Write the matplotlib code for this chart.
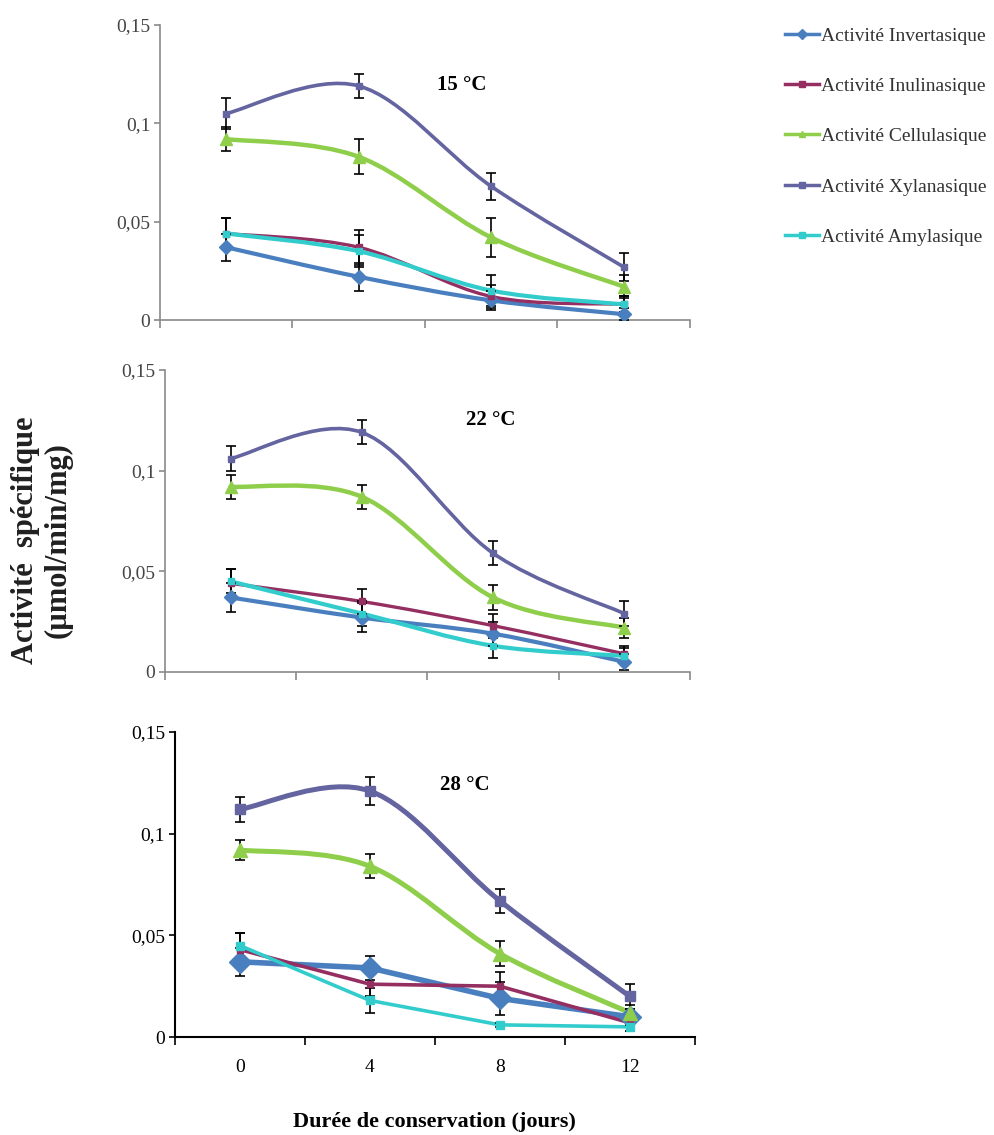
import matplotlib
matplotlib.use("Agg")
import matplotlib.pyplot as plt
from matplotlib.path import Path
from matplotlib.patches import PathPatch
from matplotlib.lines import Line2D
from matplotlib.ticker import FuncFormatter

plt.rcParams['font.family'] = ['Liberation Serif', 'DejaVu Serif']

days = [0, 4, 8, 12]
temps = ["15 °C", "22 °C", "28 °C"]
names = ["Activité Invertasique", "Activité Inulinasique", "Activité Cellulasique",
         "Activité Xylanasique", "Activité Amylasique"]
colors = ["#4a7fbf", "#952e61", "#8fce4a", "#6464a0", "#33cccc"]
markers = ["D", "s", "^", "s", "s"]

# activité spécifique (µmol/min/mg), one row per enzyme, one block per temperature
act_15 = [[0.037, 0.022, 0.010, 0.003],
          [0.044, 0.037, 0.012, 0.008],
          [0.092, 0.083, 0.042, 0.017],
          [0.105, 0.119, 0.068, 0.027],
          [0.044, 0.035, 0.015, 0.008]]
err_15 = [[0.007, 0.007, 0.005, 0.003],
          [0.008, 0.009, 0.006, 0.004],
          [0.006, 0.009, 0.010, 0.006],
          [0.008, 0.006, 0.007, 0.007],
          [0.008, 0.008, 0.008, 0.004]]

act_22 = [[0.037, 0.027, 0.019, 0.005],
          [0.044, 0.035, 0.023, 0.009],
          [0.092, 0.087, 0.037, 0.022],
          [0.106, 0.119, 0.059, 0.029],
          [0.045, 0.029, 0.013, 0.008]]
err_22 = [[0.007, 0.007, 0.006, 0.004],
          [0.007, 0.006, 0.006, 0.004],
          [0.006, 0.006, 0.006, 0.005],
          [0.006, 0.006, 0.006, 0.006],
          [0.006, 0.006, 0.006, 0.004]]

act_28 = [[0.037, 0.034, 0.019, 0.010],
          [0.043, 0.026, 0.025, 0.007],
          [0.092, 0.084, 0.041, 0.012],
          [0.112, 0.121, 0.067, 0.020],
          [0.045, 0.018, 0.006, 0.005]]
err_28 = [[0.007, 0.006, 0.008, 0.004],
          [0.008, 0.006, 0.007, 0.004],
          [0.005, 0.006, 0.006, 0.004],
          [0.006, 0.007, 0.006, 0.006],
          [0.006, 0.006, 0.001, 0.002]]

panels = [(act_15, err_15, [True] * 5),
          (act_22, err_22, [True] * 5),
          (act_28, err_28, [False, False, True, True, False])]

# axes boxes in figure fractions: left, bottom, width, height
boxes = [(0.161, 0.718, 0.533, 0.260),
         (0.166, 0.408, 0.528, 0.266),
         (0.176, 0.0863, 0.523, 0.2687)]
title_pos = [(0.57, 0.797), (0.621, 0.834), (0.558, 0.826)]


def smooth_path(xs, ys):
    # Catmull-Rom segments written as cubic Bezier curves
    pts = list(zip(xs, ys))
    ext = [pts[0]] + pts + [pts[-1]]
    verts = [pts[0]]
    codes = [Path.MOVETO]
    for i in range(1, len(ext) - 2):
        p0, p1, p2, p3 = ext[i - 1], ext[i], ext[i + 1], ext[i + 2]
        c1 = (p1[0] + (p2[0] - p0[0]) / 6, p1[1] + (p2[1] - p0[1]) / 6)
        c2 = (p2[0] - (p3[0] - p1[0]) / 6, p2[1] - (p3[1] - p1[1]) / 6)
        verts += [c1, c2, p2]
        codes += [Path.CURVE4] * 3
    return Path(verts, codes)


fig = plt.figure(figsize=(9.94, 11.35), dpi=100)

lw_top = [3.0, 2.4, 3.2, 2.6, 3.0]
ms_top = [7, 4, 8, 5, 4]
lw_low = [4.0, 2.6, 3.6, 3.6, 2.6]
ms_low = [11, 5, 10, 7, 6]

for k, (acts, errs, smooth) in enumerate(panels):
    ax = fig.add_axes(boxes[k])
    last = k == 2
    lw = lw_low if last else lw_top
    msize = ms_low if last else ms_top
    axcol = "black" if last else "#8a8a8a"
    txtcol = "black" if last else "#454545"
    for i in range(5):
        y = acts[i]
        ax.errorbar(days, y, yerr=errs[i], fmt="none", ecolor="black",
                    elinewidth=1.2, capsize=3.5, capthick=1.2, zorder=4)
        if smooth[i]:
            ax.add_patch(PathPatch(smooth_path(days, y), fill=False,
                                   edgecolor=colors[i], lw=lw[i], zorder=3,
                                   capstyle="round", joinstyle="round"))
        else:
            ax.plot(days, y, color=colors[i], lw=lw[i], zorder=3)
        ax.plot(days, y, linestyle="none", marker=markers[i], ms=msize[i],
                color=colors[i], zorder=5)

    ax.set_xlim(-2, 14)
    ax.set_ylim(0, 0.15)
    ax.set_yticks([0, 0.05, 0.1, 0.15])
    ax.yaxis.set_major_formatter(FuncFormatter(lambda v, p: ("%g" % round(v, 2)).replace(".", ",")))
    ax.set_xticks([-2, 2, 6, 10, 14])
    ax.set_xticklabels([])
    ax.tick_params(axis="x", which="major", direction="out", length=6,
                   color=axcol, width=1.2)
    ax.tick_params(axis="y", direction="out", length=4, color=axcol,
                   width=1.2, labelsize=14, labelcolor=txtcol, pad=3)
    if last:
        ax.set_xticks(days, minor=True)
        ax.set_xticklabels([str(d) for d in days], minor=True)
        ax.tick_params(axis="x", which="minor", length=0, labelsize=14, pad=16)
    for s in ["top", "right"]:
        ax.spines[s].set_visible(False)
    for s in ["left", "bottom"]:
        ax.spines[s].set_color(axcol)
        ax.spines[s].set_linewidth(1.5 if last else 1.2)
    ax.text(title_pos[k][0], title_pos[k][1], temps[k], transform=ax.transAxes,
            fontsize=15, fontweight="bold", ha="center", va="center")
    if last:
        ax.set_xlabel("Durée de conservation (jours)", fontsize=16,
                      fontweight="bold", labelpad=26)

fig.text(0.042, 0.524, "Activité  spécifique\n(µmol/min/mg)", rotation=90,
         fontsize=22, fontweight="bold", ha="center", va="center",
         color="#202020", linespacing=1.2)

handles = [Line2D([], [], color=colors[i], lw=2.5, marker=markers[i], ms=5)
           for i in range(5)]
fig.legend(handles, names, loc="upper left", bbox_to_anchor=(0.782, 0.983),
           frameon=False, fontsize=14, labelspacing=1.68, handlelength=1.75,
           handletextpad=0.1, borderaxespad=0, labelcolor="#333333")

fig.savefig("out.png", dpi=100)
